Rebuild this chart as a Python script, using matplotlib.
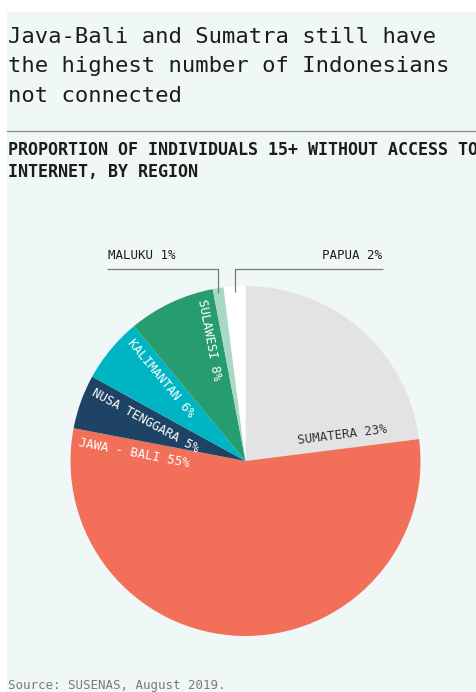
import numpy as np
import matplotlib
matplotlib.use("Agg")
import matplotlib.pyplot as plt
from matplotlib.patches import Rectangle
from matplotlib.lines import Line2D

# share of people 15+ without internet access, by region (SUSENAS 2019)
regions = ["SUMATERA", "JAWA - BALI", "NUSA TENGGARA", "KALIMANTAN",
           "SULAWESI", "MALUKU", "PAPUA"]
shares = [23, 55, 5, 6, 8, 1, 2]
colors = ["#e3e3e3", "#f2705a", "#1f4364", "#00b5c3", "#279c6e",
          "#a9d8c5", "#ffffff"]
outside = ["MALUKU", "PAPUA"]  # slices too thin for an inside label

title_lines = ["Java-Bali and Sumatra still have",
               "the highest number of Indonesians",
               "not connected"]
subtitle_lines = ["PROPORTION OF INDIVIDUALS 15+ WITHOUT ACCESS TO",
                  "INTERNET, BY REGION"]
source = "Source: SUSENAS, August 2019."

MONO = "DejaVu Sans Mono"
BG = "#eff8f6"
INK = "#1c1c1c"

W, H = 477, 692
fig = plt.figure(figsize=(W / 100, H / 100), dpi=100)
fig.patch.set_facecolor("white")
fig.patches.append(Rectangle((7 / W, 0), 1, 1 - 12 / H, transform=fig.transFigure,
                             facecolor=BG, edgecolor="none", zorder=-10))


def fx(px):
    return px / W


def fy(py):
    return 1 - py / H


for i, line in enumerate(title_lines):
    fig.text(fx(8), fy(43 + 29.5 * i), line, fontsize=16, family=MONO,
             color=INK, va="baseline")

fig.add_artist(Line2D([fx(7), 1], [fy(131), fy(131)], transform=fig.transFigure,
                      color="#8c8c8c", lw=0.9))

for i, line in enumerate(subtitle_lines):
    fig.text(fx(8), fy(155 + 22 * i), line, fontsize=12, family=MONO,
             fontweight="bold", color=INK, va="baseline")

fig.text(fx(8), fy(689), source, fontsize=9, family=MONO, color="#7a7a7a",
         va="baseline")

# pie axes: one data unit = one pie radius
ax = fig.add_axes([0, 0, 1, 1])
ax.patch.set_visible(False)
cx, cy, R = 245.5, 461, 175
ax.pie(shares, colors=colors, startangle=90, counterclock=False, radius=1,
       wedgeprops=dict(linewidth=0))
ax.set_aspect("auto")
ax.set_xlim(-cx / R, (W - cx) / R)
ax.set_ylim((cy - H) / R, cy / R)
ax.axis("off")

# boundary angles, going clockwise from 12 o'clock
ends = 90 - 360 * np.cumsum(shares) / sum(shares)
starts = ends + 360 * np.array(shares) / sum(shares)

for name, val, a0, a1 in zip(regions, shares, starts, ends):
    text = f"{name} {val}%"
    if name in outside:
        continue
    th = np.deg2rad(a1)
    u = np.array([np.cos(th), np.sin(th)])
    n = np.array([-np.sin(th), np.cos(th)])  # points into the slice
    if u[0] > 0:
        p = 0.31 * u + 0.04 * n
        ax.text(p[0], p[1], text, fontsize=9, family=MONO, color="#333333",
                rotation=a1, rotation_mode="anchor", ha="left", va="bottom")
    else:
        rot = (a1 % 360) - 180
        p = 0.955 * u + 0.035 * n
        ax.text(p[0], p[1], text, fontsize=9, family=MONO, color="white",
                rotation=rot, rotation_mode="anchor", ha="left", va="top")

# leader lines for the two thin slices
y_line = (cy - 269) / R
y_lab = (cy - 259) / R
for name, val, a0, a1 in zip(regions, shares, starts, ends):
    if name not in outside:
        continue
    mid = np.deg2rad((a0 + a1) / 2)
    mx, my = np.cos(mid), 0.97 * np.sin(mid)
    if name == "MALUKU":
        x_far = (107 - cx) / R
        ha = "left"
    else:
        x_far = (383 - cx) / R
        ha = "right"
    ax.plot([x_far, mx, mx], [y_line, y_line, my], color="#7a7a7a", lw=0.9,
            solid_capstyle="butt")
    ax.text(x_far + (0.005 if ha == "left" else -0.005), y_lab, f"{name} {val}%",
            fontsize=9, family=MONO, color=INK, ha=ha, va="baseline")

fig.savefig("out.png", dpi=100, facecolor=fig.get_facecolor())
